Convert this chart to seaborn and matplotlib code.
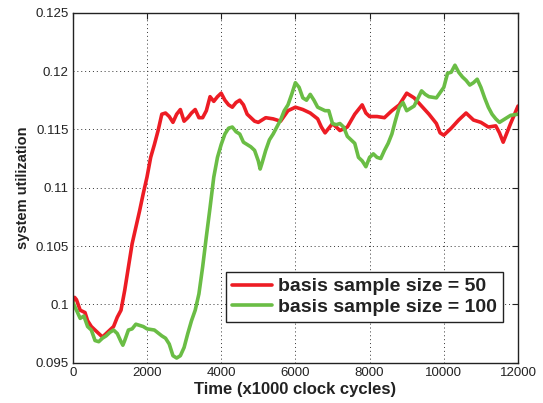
import numpy as np
import pandas as pd
import matplotlib
matplotlib.use("Agg")
import matplotlib.pyplot as plt
import seaborn as sns
from matplotlib.ticker import FixedLocator, FuncFormatter

# values
red_time = [0, 50, 100, 200, 330, 400, 500, 600, 700, 800, 900, 1000, 1100, 1200, 1300,
            1400, 1500, 1600, 1700, 1800, 1900, 2000, 2100, 2200, 2300, 2400, 2500,
            2600, 2700, 2800, 2900, 3000, 3100, 3200, 3300, 3400, 3500, 3600, 3700,
            3800, 3900, 4000, 4100, 4200, 4300, 4400, 4500, 4600, 4700, 4800, 4900,
            5000, 5200, 5400, 5600, 5800, 6000, 6200, 6400, 6600, 6700, 6800, 6900,
            7000, 7200, 7400, 7600, 7800, 7900, 8000, 8200, 8400, 8600, 8800, 9000,
            9200, 9400, 9600, 9800, 9900, 10000, 10200, 10400, 10600, 10800, 11000,
            11200, 11400, 11500, 11600, 11800, 12000]
red_util = [0.1002, 0.1006, 0.1004, 0.0995, 0.0993, 0.0986, 0.0981, 0.0978, 0.0975,
            0.0972, 0.0975, 0.0978, 0.0981, 0.0989, 0.0995, 0.1012, 0.1032, 0.1052,
            0.1066, 0.1080, 0.1095, 0.1109, 0.1126, 0.1137, 0.1149, 0.1163, 0.1164,
            0.1161, 0.1156, 0.1163, 0.1167, 0.1157, 0.1160, 0.1164, 0.1167, 0.1160,
            0.1160, 0.1166, 0.1178, 0.1174, 0.1178, 0.1181, 0.1175, 0.1171, 0.1169,
            0.1173, 0.1175, 0.1171, 0.1163, 0.1160, 0.1157, 0.1156, 0.1160, 0.1159,
            0.1157, 0.1166, 0.1169, 0.1167, 0.1164, 0.1159, 0.1152, 0.1147, 0.1151,
            0.1155, 0.1149, 0.1152, 0.1163, 0.1171, 0.1164, 0.1161, 0.1161, 0.1160,
            0.1166, 0.1171, 0.1181, 0.1177, 0.1170, 0.1163, 0.1155, 0.1147, 0.1145,
            0.1151, 0.1158, 0.1164, 0.1158, 0.1156, 0.1152, 0.1153, 0.1147, 0.1139,
            0.1155, 0.1170]

green_time = [0, 100, 200, 300, 400, 500, 600, 700, 800, 900, 1000, 1100, 1200, 1300,
              1350, 1400, 1500, 1600, 1700, 1800, 1900, 2000, 2200, 2400, 2500, 2600,
              2700, 2800, 2900, 3000, 3100, 3200, 3300, 3400, 3500, 3600, 3700, 3800,
              3900, 4000, 4100, 4200, 4300, 4400, 4500, 4600, 4700, 4800, 4900, 5000,
              5050, 5100, 5200, 5300, 5400, 5500, 5600, 5700, 5800, 5900, 6000, 6100,
              6200, 6300, 6400, 6500, 6600, 6800, 6900, 7000, 7100, 7200, 7300, 7400,
              7500, 7600, 7700, 7800, 7900, 8000, 8100, 8200, 8300, 8400, 8500, 8600,
              8700, 8800, 8900, 9000, 9200, 9400, 9500, 9600, 9800, 10000, 10100,
              10200, 10300, 10400, 10500, 10600, 10700, 10800, 10900, 11000, 11100,
              11200, 11300, 11400, 11500, 11600, 11800, 12000]
green_util = [0.1002, 0.0995, 0.0988, 0.0990, 0.0981, 0.0978, 0.0969, 0.0968, 0.0971,
              0.0973, 0.0976, 0.0978, 0.0975, 0.0968, 0.0965, 0.0969, 0.0978, 0.0979,
              0.0983, 0.0982, 0.0981, 0.0979, 0.0978, 0.0973, 0.0971, 0.0966, 0.0956,
              0.0954, 0.0956, 0.0963, 0.0975, 0.0986, 0.0995, 0.1009, 0.1032, 0.1058,
              0.1083, 0.1109, 0.1126, 0.1137, 0.1146, 0.1151, 0.1152, 0.1148, 0.1146,
              0.1139, 0.1137, 0.1135, 0.1132, 0.1123, 0.1116, 0.1121, 0.1132, 0.1141,
              0.1146, 0.1152, 0.1158, 0.1166, 0.1171, 0.1180, 0.1190, 0.1186, 0.1177,
              0.1175, 0.1180, 0.1175, 0.1169, 0.1166, 0.1166, 0.1155, 0.1154, 0.1155,
              0.1152, 0.1144, 0.1141, 0.1138, 0.1126, 0.1123, 0.1118, 0.1126, 0.1129,
              0.1126, 0.1125, 0.1132, 0.1138, 0.1146, 0.1158, 0.1169, 0.1173, 0.1166,
              0.1170, 0.1183, 0.1180, 0.1178, 0.1177, 0.1186, 0.1198, 0.1199, 0.1205,
              0.1199, 0.1195, 0.1192, 0.1188, 0.1190, 0.1193, 0.1186, 0.1177, 0.1169,
              0.1163, 0.1159, 0.1156, 0.1158, 0.1162, 0.1163]

series_labels = ["basis sample size = 50", "basis sample size = 100"]
x_ticks = [0, 2000, 4000, 6000, 8000, 10000, 12000]
y_ticks = [0.095, 0.1, 0.105, 0.11, 0.115, 0.12, 0.125]

df = pd.concat([
    pd.DataFrame({"time": red_time, "util": red_util, "series": series_labels[0]}),
    pd.DataFrame({"time": green_time, "util": green_util, "series": series_labels[1]}),
])

sns.set_style("white")
plt.rcParams["font.family"] = ["Liberation Sans", "DejaVu Sans"]

fig = plt.figure(figsize=(5.43, 4.03), dpi=100)
ax = fig.add_axes([0.134, 0.100, 0.820, 0.8685])

sns.lineplot(data=df, x="time", y="util", hue="series", hue_order=series_labels,
             palette=["#ED1C24", "#6ABD45"], linewidth=2.6, sort=False,
             estimator=None, ax=ax)

ax.set_xlim(0, 12000)
ax.set_ylim(0.095, 0.125)
ax.xaxis.set_major_locator(FixedLocator(x_ticks))
ax.yaxis.set_major_locator(FixedLocator(y_ticks))
ax.yaxis.set_major_formatter(FuncFormatter(lambda v, p: f"{v:g}"))
ax.tick_params(direction="in", length=4, width=0.8, labelsize=9.5, colors="#222222",
               top=True, right=True, pad=3)
ax.grid(True, linestyle=(0, (1, 3)), color="#333333", linewidth=0.7)
for s in ax.spines.values():
    s.set_color("#222222")
    s.set_linewidth(1.0)

ax.set_xlabel("Time (x1000 clock cycles)", fontsize=12, fontweight="bold",
              color="#222222", labelpad=2)
ax.set_ylabel("system utilization", fontsize=10.5, fontweight="bold",
              color="#222222", labelpad=4)

leg = ax.legend(loc="lower right", bbox_to_anchor=(0.966, 0.117), frameon=True,
                fancybox=False, edgecolor="#222222", framealpha=1,
                handlelength=2.1, handletextpad=0.3, borderpad=0.3,
                labelspacing=0.15, borderaxespad=0,
                prop={"weight": "bold", "size": 14})
leg.get_frame().set_linewidth(1.0)
for t in leg.get_texts():
    t.set_color("#222222")

fig.savefig("out.png", dpi=100)
